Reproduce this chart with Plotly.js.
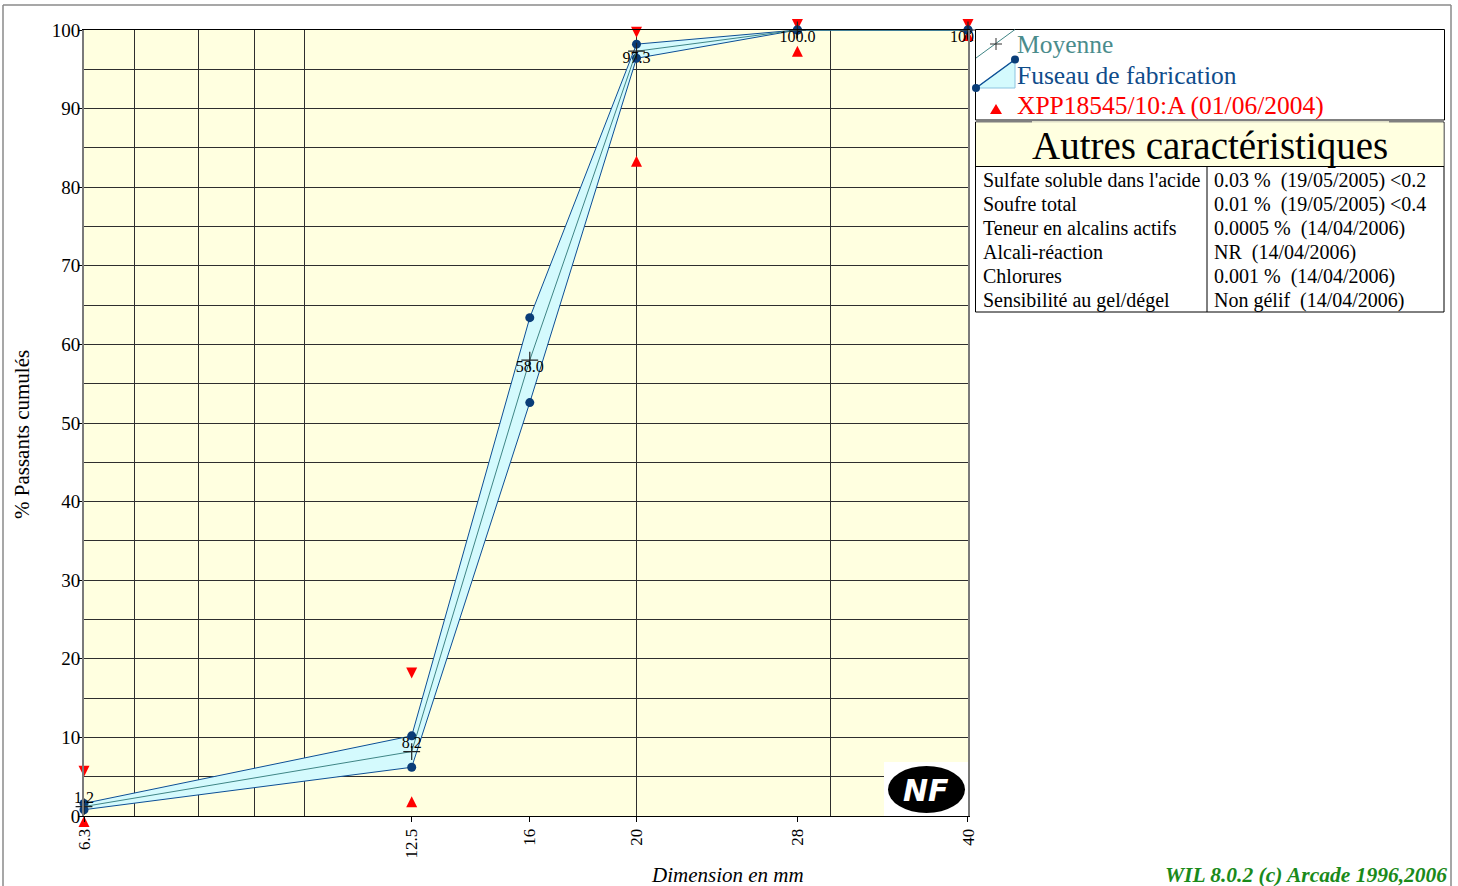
<!DOCTYPE html>
<html><head><meta charset="utf-8">
<script src="https://cdn.plot.ly/plotly-3.0.1.min.js"></script>
<style>html,body{margin:0;padding:0;background:#fff;overflow:hidden}#chart{width:1458px;height:886px}</style>
</head><body><div id="chart"></div>
<script>
// ---- data ----
const sieves = [6.3, 12.5, 16, 20, 28, 40];
const sieveLabels = ['6.3', '12.5', '16', '20', '28', '40'];
const meanValues = [1.2, 8.2, 58.0, 97.3, 100.0, 100.0];
const bandUpper = [1.6, 10.2, 63.4, 98.2, 100, 100];
const bandLower = [0.8, 6.2, 52.6, 96.4, 100, 100];
const specSieves = [6.3, 12.5, 20, 28, 40];
const specMax = [5, 17.5, 99, 100, 100];
const specMin = [0, 2.5, 84, 98, 100];
const gridSieves = [7, 8, 9, 10, 20, 30];
const yTicks = [0, 10, 20, 30, 40, 50, 60, 70, 80, 90, 100];
const legendNames = ['Moyenne', 'Fuseau de fabrication', 'XPP18545/10:A (01/06/2004)'];
const tableTitle = 'Autres caractéristiques';
const propNames = ['Sulfate soluble dans l\'acide', 'Soufre total', 'Teneur en alcalins actifs', 'Alcali-réaction', 'Chlorures', 'Sensibilité au gel/dégel'];
const propValues = ['0.03 %\u00a0 (19/05/2005) &lt;0.2', '0.01 %\u00a0 (19/05/2005) &lt;0.4', '0.0005 %\u00a0 (14/04/2006)', 'NR\u00a0 (14/04/2006)', '0.001 %\u00a0 (14/04/2006)', 'Non gélif\u00a0 (14/04/2006)'];
const xTitle = 'Dimension en mm';
const yTitle = '% Passants cumulés';
const credit = 'WIL 8.0.2 (c) Arcade 1996,2006';

// ---- geometry helpers (pixel -> paper) ----
const L = 84, R = 968, T = 30, B = 816;
const px = x => (x - L) / (R - L);
const py = y => (B - y) / (B - T);
const FONT = 'Liberation Serif, Times New Roman, serif';
const TEAL = '#3f8585', BLUE = '#0d4f95', NAVY = '#0a3d78', FILL = '#d4fafd', RED = '#ff0000';

function line(x0, y0, x1, y1, color, width, layer) {
  return {type: 'line', xref: 'paper', yref: 'paper', x0: px(x0), y0: py(y0), x1: px(x1), y1: py(y1),
    line: {color: color, width: width}, layer: layer || 'above'};
}
function rect(x0, y0, x1, y1, fill, lcolor, lwidth, type) {
  return {type: type || 'rect', xref: 'paper', yref: 'paper', x0: px(x0), y0: py(y1), x1: px(x1), y1: py(y0),
    fillcolor: fill, line: {color: lcolor || 'rgba(0,0,0,0)', width: lwidth || 0}, layer: 'above'};
}
function path(pts, fill, lcolor, lwidth) {
  let d = pts.map((p, i) => (i ? 'L' : 'M') + px(p[0]) + ',' + py(p[1])).join(' ') + ' Z';
  return {type: 'path', xref: 'paper', yref: 'paper', path: d, fillcolor: fill,
    line: {color: lcolor || 'rgba(0,0,0,0)', width: lwidth || 0}, layer: 'above'};
}
function ann(x, y, text, opts) {
  return Object.assign({xref: 'paper', yref: 'paper', x: px(x), y: py(y), text: text, showarrow: false,
    xanchor: 'left', yanchor: 'middle', font: {family: FONT, size: 20, color: '#000'}}, opts || {});
}

// ---- traces ----
const traces = [
  {x: specSieves, y: specMax, mode: 'markers', type: 'scatter', cliponaxis: false, showlegend: false, hoverinfo: 'skip',
   marker: {symbol: 'arrow-down', size: 11, color: RED, line: {width: 0}}},
  {x: specSieves, y: specMin, mode: 'markers', type: 'scatter', cliponaxis: false, showlegend: false, hoverinfo: 'skip',
   marker: {symbol: 'arrow-up', size: 11, color: RED, line: {width: 0}}},
  {x: sieves, y: bandLower, mode: 'lines+markers', type: 'scatter', cliponaxis: false, showlegend: false,
   line: {color: BLUE, width: 1}, marker: {size: 9, color: NAVY}},
  {x: sieves, y: bandUpper, mode: 'lines+markers', type: 'scatter', cliponaxis: false, showlegend: false,
   fill: 'tonexty', fillcolor: FILL, line: {color: BLUE, width: 1}, marker: {size: 9, color: NAVY}},
  {x: sieves, y: meanValues, mode: 'lines+markers', type: 'scatter', cliponaxis: false, showlegend: false,
   line: {color: TEAL, width: 1}, marker: {symbol: 'cross-thin', size: 12, line: {color: '#222', width: 1.2}}},
  {x: sieves, y: meanValues, mode: 'text', type: 'scatter', cliponaxis: false, showlegend: false, hoverinfo: 'skip',
   text: meanValues.map(v => v.toFixed(1)),
   textposition: ['top center', 'top center', 'bottom center', 'bottom center', 'bottom center', 'bottom center'],
   textfont: {family: FONT, size: 16, color: '#000'}}
];

// ---- decorations ----
const shapes = [
  line(3, 5, 3, 895, '#8a8a8a', 1.5),
  line(3, 5, 1451, 5, '#8a8a8a', 1.5),
  line(1451, 5, 1451, 895, '#8a8a8a', 1.5),
  rect(975.5, 29.5, 1444.5, 120, '#ffffff', '#000', 1),
  line(976, 58, 1015, 29.5, TEAL, 1),
  line(990, 44, 1002, 44, '#333', 1),
  line(996, 38, 996, 50, '#333', 1),
  path([[976, 88], [1015, 59.5], [1015, 88]], FILL, '#8cc4e0', 1),
  line(976, 88, 1015, 59.5, BLUE, 1.5),
  rect(972, 84, 980, 92, NAVY, NAVY, 0, 'circle'),
  rect(1011, 55.5, 1019, 63.5, NAVY, NAVY, 0, 'circle'),
  path([[990, 114], [1002, 114], [996, 104]], RED),
  rect(975.5, 122, 1444, 312, '#ffffff', '#000', 1),
  rect(976, 122.5, 1443.5, 166.5, '#ffffe0'),
  line(1032, 122, 1389, 122, '#ffffe0', 1.5),
  line(975.5, 166.5, 1444, 166.5, '#000', 1),
  line(1207, 166.5, 1207, 312, '#000', 1),
  rect(884, 762, 968, 816, '#ffffff'),
  rect(888, 766, 965, 813, '#000000', '#000', 0, 'circle')
];

const annotations = [
  ann(1015, 45, legendNames[0], {font: {family: FONT, size: 25.5, color: '#4a8c8c'}}),
  ann(1015, 75, legendNames[1], {font: {family: FONT, size: 25.5, color: '#0f4c8a'}}),
  ann(1015, 106, legendNames[2], {font: {family: FONT, size: 25.5, color: RED}}),
  ann(1210, 146, tableTitle, {xanchor: 'center', font: {family: FONT, size: 39, color: '#000'}}),
  ann(22, 435, yTitle, {xanchor: 'center', textangle: -90, font: {family: FONT, size: 21, color: '#000'}}),
  ann(727, 875, '<i>' + xTitle + '</i>', {xanchor: 'center', font: {family: FONT, size: 21, color: '#000'}}),
  ann(1449, 875, '<b><i>' + credit + '</i></b>', {xanchor: 'right', font: {family: FONT, size: 21.5, color: '#1a8a1a'}}),
  ann(926, 790, '<b><i>NF</i></b>', {xanchor: 'center', font: {family: 'DejaVu Sans, sans-serif', size: 30, color: '#ffffff'}})
];
propNames.forEach((n, i) => {
  const yc = 180 + i * 24.1;
  annotations.push(ann(981, yc, n, {font: {family: FONT, size: 20, color: '#000'}}));
  annotations.push(ann(1212, yc, propValues[i], {font: {family: FONT, size: 20, color: '#000'}}));
});

const eps = 1e-5;
const layout = {
  width: 1458, height: 886,
  margin: {l: L, r: 1458 - R, t: T, b: 886 - B, pad: 0},
  paper_bgcolor: '#ffffff', plot_bgcolor: '#ffffe0',
  font: {family: FONT, size: 19, color: '#000'},
  showlegend: false,
  xaxis: {
    type: 'log', range: [Math.log10(sieves[0]) - eps, Math.log10(sieves[sieves.length - 1]) + eps],
    tickmode: 'array', tickvals: sieves, ticktext: sieveLabels, tickangle: -90,
    tickfont: {family: FONT, size: 17, color: '#000'},
    ticks: 'outside', ticklen: 5, tickcolor: '#000',
    showgrid: false, zeroline: false,
    showline: true, linecolor: '#000', linewidth: 1, mirror: true,
    minor: {tickmode: 'array', tickvals: gridSieves, showgrid: true, gridcolor: '#2e2e2e', gridwidth: 1, ticks: ''}
  },
  yaxis: {
    range: [0, 100], tickmode: 'array', tickvals: yTicks,
    tickfont: {family: FONT, size: 19, color: '#000'},
    ticks: 'outside', ticklen: 4, tickcolor: '#000', ticklabelstandoff: -6,
    showgrid: true, gridcolor: '#2e2e2e', gridwidth: 1, zeroline: false,
    showline: true, linecolor: '#7a7a7a', linewidth: 2, mirror: true,
    minor: {dtick: 5, showgrid: true, gridcolor: '#2e2e2e', gridwidth: 1, ticks: ''}
  },
  shapes: shapes,
  annotations: annotations
};

Plotly.newPlot('chart', traces, layout, {staticPlot: true, displayModeBar: false});
</script>
</body></html>
